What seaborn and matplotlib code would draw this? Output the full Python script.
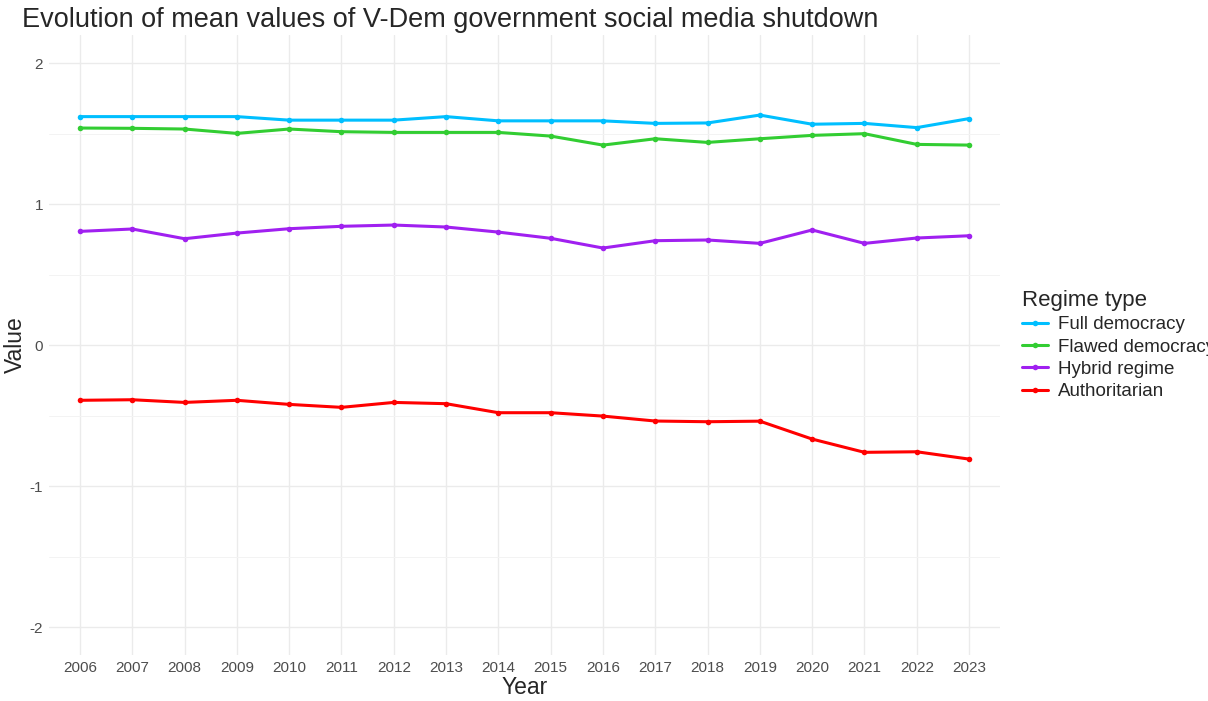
import pandas as pd
import matplotlib
matplotlib.use('Agg')
import matplotlib.pyplot as plt
import seaborn as sns
from matplotlib.ticker import MultipleLocator

years = list(range(2006, 2024))

full_democracy = [1.62, 1.62, 1.62, 1.62, 1.595, 1.595, 1.595, 1.62, 1.59,
                  1.59, 1.59, 1.572, 1.575, 1.631, 1.566, 1.572, 1.542, 1.606]
flawed_democracy = [1.539, 1.537, 1.532, 1.501, 1.532, 1.513, 1.508, 1.508, 1.508,
                    1.482, 1.418, 1.463, 1.437, 1.463, 1.487, 1.499, 1.423, 1.418]
hybrid_regime = [0.806, 0.823, 0.754, 0.794, 0.825, 0.842, 0.851, 0.837, 0.801,
                 0.757, 0.688, 0.740, 0.745, 0.721, 0.816, 0.721, 0.759, 0.775]
authoritarian = [-0.392, -0.388, -0.407, -0.392, -0.421, -0.442, -0.407, -0.416, -0.480,
                 -0.480, -0.504, -0.539, -0.544, -0.540, -0.667, -0.761, -0.757, -0.809]

regimes = ['Full democracy', 'Flawed democracy', 'Hybrid regime', 'Authoritarian']
colors = ['#00BFFF', '#32CD32', '#A020F0', '#FF0000']

df = pd.DataFrame({
    'Year': years * 4,
    'Value': full_democracy + flawed_democracy + hybrid_regime + authoritarian,
    'Regime type': [r for r in regimes for _ in years],
})

sns.set_style('white')
plt.rcParams['font.family'] = ['Liberation Sans', 'DejaVu Sans']
plt.rcParams['axes.unicode_minus'] = False

fig = plt.figure(figsize=(12.08, 7.01), dpi=100)
ax = fig.add_axes([0.0402, 0.0653, 0.788, 0.885])

sns.lineplot(data=df, x='Year', y='Value', hue='Regime type', hue_order=regimes,
             palette=dict(zip(regimes, colors)), marker='o', markersize=4,
             markeredgewidth=0, linewidth=2.2, ax=ax)

ax.set_xlim(2005.4, 2023.6)
ax.set_ylim(-2.2, 2.2)
ax.set_xticks(years)
ax.set_xticklabels([str(y) for y in years])
ax.yaxis.set_major_locator(MultipleLocator(1))
ax.yaxis.set_minor_locator(MultipleLocator(0.5))
ax.grid(which='major', color='#ebebeb', linewidth=1.0)
ax.grid(which='minor', axis='y', color='#f3f3f3', linewidth=0.7)
ax.set_axisbelow(True)
for s in ax.spines.values():
    s.set_visible(False)
ax.tick_params(axis='both', which='both', length=0, labelsize=11, colors='#4d4d4d', pad=4)

ax.set_xlabel('Year', fontsize=16.5, labelpad=1)
ax.set_ylabel('Value', fontsize=16.5, labelpad=2)
fig.text(0.018, 0.962, 'Evolution of mean values of V-Dem government social media shutdown',
         fontsize=19.5, ha='left', va='baseline')

leg = ax.legend(title='Regime type', loc='center left', bbox_to_anchor=(1.005, 0.5),
                frameon=False, fontsize=13.5, title_fontsize=16, handlelength=1.4,
                handletextpad=0.5, labelspacing=0.28)
leg._legend_box.align = 'left'

fig.savefig('out.png', dpi=100)
